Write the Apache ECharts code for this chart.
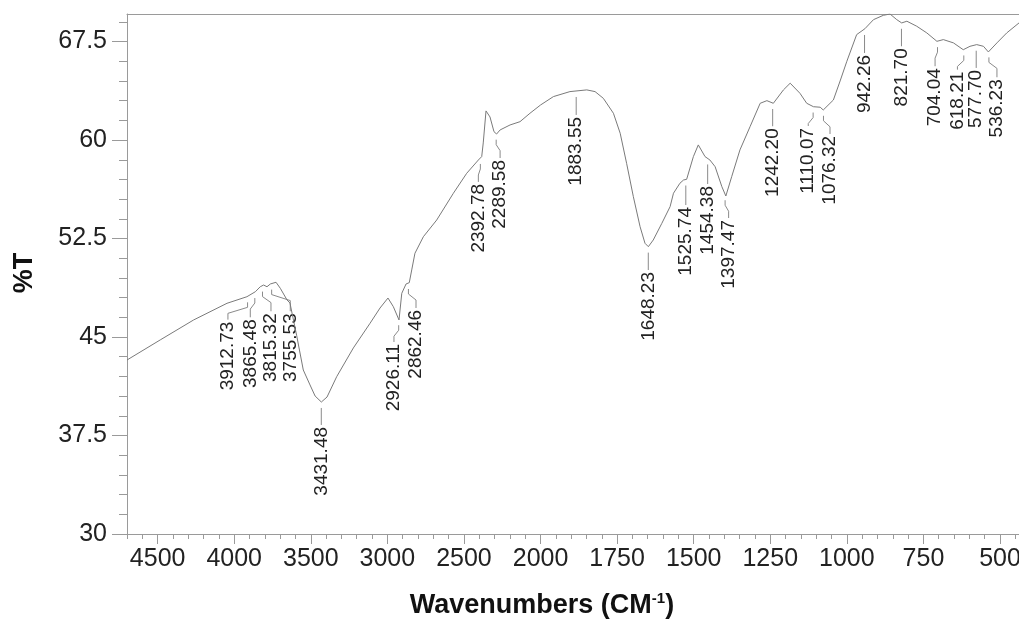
<!DOCTYPE html>
<html><head><meta charset="utf-8">
<script src="https://cdn.jsdelivr.net/npm/echarts@6/dist/echarts.min.js"></script>
<style>html,body{margin:0;padding:0;background:#fff}#c{width:1019px;height:620px}</style>
</head><body><div id="c"></div>
<script>
// ---- data ----
const wavenumbers = [4700,4483,4265,4047,3917,3862,3830,3808,3786,3764,3727,3699,3655,3636,3592,3549,3505,3472,3431,3394,3331,3222,3113,3048,2996,2961,2924,2906,2878,2857,2841,2820,2765,2678,2569,2482,2406,2384,2374,2356,2330,2304,2287,2264,2199,2134,2069,2000,1958,1904,1849,1822,1795,1762,1740,1719,1697,1675,1659,1648,1632,1604,1577,1566,1545,1533,1523,1501,1485,1463,1447,1430,1408,1395,1376,1349,1316,1283,1261,1240,1207,1185,1153,1131,1109,1087,1077,1044,1022,1000,968,941,913,881,859,837,821,804,772,739,706,685,652,620,598,576,554,538,510,478,438];
const transmittance = [43.25,44.78,46.30,47.57,48.07,48.45,48.83,48.96,48.83,49.04,49.17,48.71,47.82,47.59,45.10,42.49,41.35,40.51,40.05,40.43,41.98,44.17,46.05,47.21,47.97,47.31,46.30,48.33,49.04,49.14,50.11,51.38,52.64,53.91,55.95,57.47,58.48,58.74,59.78,62.22,61.76,60.64,60.46,60.77,61.15,61.40,62.04,62.67,63.31,63.69,63.82,63.69,63.18,62.04,60.52,58.23,55.69,53.40,52.14,51.88,52.39,53.66,54.93,55.95,56.71,56.96,57.01,58.74,59.63,58.74,58.48,57.97,56.45,55.74,57.21,59.25,61.02,62.80,63.00,62.80,63.82,64.33,63.56,62.80,62.54,62.50,62.29,63.05,64.50,66.00,68.03,68.48,69.17,69.50,69.60,69.17,68.92,69.05,68.67,68.16,67.52,67.65,67.40,66.88,67.14,67.27,67.14,66.71,67.40,68.16,68.92];
const peakWavenumbers = [3912.73,3865.48,3815.32,3755.53,3431.48,2926.11,2862.46,2392.78,2289.58,1883.55,1648.23,1525.74,1454.38,1397.47,1242.20,1110.07,1076.32,942.26,821.70,704.04,618.21,577.70,536.23];
const xTickLabels = [4500,4000,3500,3000,2500,2000,1750,1500,1250,1000,750,500];
const yTickLabels = [30,37.5,45,52.5,60,67.5];

// ---- label layout (data space: [label wavenumber, %T at label top]) ----
const labelLayout = [[4041,46.17],[3895,46.35],[3760,46.81],[3634,46.81],[3431.48,38.15],[2957,44.47],[2813,47.06],[2406,56.66],[2264,58.48],[1883.55,61.76],[1648.23,49.95],[1525.74,54.90],[1454.38,56.50],[1386,53.91],[1242.20,60.90],[1126,60.92],[1055,60.31],[942.26,66.48],[821.70,66.99],[712,65.47],[639,65.21],[577.70,65.34],[510,64.63]];

// axis: scale above 2000 cm-1 is compressed by 2
const BREAK = 2000;
function toU(w){ return w > BREAK ? BREAK + (w - BREAK) / 2 : w; }
function fromU(u){ return u > BREAK ? BREAK + (u - BREAK) * 2 : u; }
function interpT(w){
  for (let i = 0; i < wavenumbers.length - 1; i++) {
    const a = wavenumbers[i], b = wavenumbers[i+1];
    if (w <= a && w >= b) { const t = (a - w) / (a - b); return transmittance[i] + t * (transmittance[i+1] - transmittance[i]); }
  }
  return transmittance[transmittance.length - 1];
}

const U_MIN = 438, U_MAX = toU(4700);
const Y_MIN = 30, Y_MAX = 69.6;
const FONT = 'Liberation Sans, Arial, Helvetica, sans-serif';
const AX = '#9a9a9a';
const majorU = xTickLabels.map(toU);
const minorU = []; for (let u = 450; u <= U_MAX; u += 50) minorU.push(u);
const minorY = []; for (let v = 30; v <= Y_MAX; v += 1.5) minorY.push(+v.toFixed(2));

const chart = echarts.init(document.getElementById('c'), null, {renderer:'canvas'});
chart.setOption({
  animation: false,
  backgroundColor: '#fff',
  grid: { left: 127, right: 0, top: 14, bottom: 86, containLabel: false, outerBoundsMode: 'none' },
  xAxis: [
    { type:'value', position:'bottom', inverse:true, min:U_MIN, max:U_MAX,
      axisLine:{show:true, onZero:false, lineStyle:{color:AX, width:1}},
      axisTick:{show:true, length:10, customValues: majorU, lineStyle:{color:AX}},
      axisLabel:{show:true, customValues: majorU, formatter: v => String(Math.round(fromU(v))), margin:13, fontSize:25, color:'#222', fontFamily:FONT},
      splitLine:{show:false} },
    { type:'value', position:'bottom', inverse:true, min:U_MIN, max:U_MAX,
      axisLine:{show:false, onZero:false},
      axisTick:{show:true, length:5, customValues: minorU, lineStyle:{color:AX}},
      axisLabel:{show:false}, splitLine:{show:false} },
    { type:'value', position:'top', inverse:true, min:U_MIN, max:U_MAX,
      axisLine:{show:true, onZero:false, lineStyle:{color:AX, width:1}},
      axisTick:{show:false}, axisLabel:{show:false}, splitLine:{show:false} }
  ],
  yAxis: [
    { type:'value', position:'left', min:Y_MIN, max:Y_MAX,
      axisLine:{show:true, onZero:false, lineStyle:{color:AX, width:1}},
      axisTick:{show:true, length:15, customValues: yTickLabels, lineStyle:{color:AX}},
      axisLabel:{show:true, customValues: yTickLabels, formatter: v => String(v), margin:20, fontSize:25, color:'#222', fontFamily:FONT},
      splitLine:{show:false} },
    { type:'value', position:'left', min:Y_MIN, max:Y_MAX,
      axisLine:{show:false, onZero:false},
      axisTick:{show:true, length:8, customValues: minorY, lineStyle:{color:AX}},
      axisLabel:{show:false}, splitLine:{show:false} }
  ],
  graphic: [
    { type:'text', x:25, y:273, rotation: Math.PI/2,
      style:{ text:'%T', fontSize:27, fontWeight:'bold', fontFamily:FONT, fill:'#111', align:'center', verticalAlign:'middle' } },
    { type:'text', x:542, y:606,
      style:{ text:'Wavenumbers (CM{sup|-1})', fontSize:27, fontWeight:'bold', fontFamily:FONT, fill:'#111', align:'center', verticalAlign:'middle',
        rich:{ sup:{ fontSize:15, fontWeight:'bold', fontFamily:FONT, fill:'#111', verticalAlign:'top', lineHeight:30 } } } }
  ],
  series: [
    { type:'line', xAxisIndex:0, yAxisIndex:0, showSymbol:false, symbol:'none',
      lineStyle:{color:'#7a7a7a', width:1}, data: wavenumbers.map((w,i) => [toU(w), transmittance[i]]), silent:true },
    { type:'custom', xAxisIndex:0, yAxisIndex:0, silent:true, clip:false,
      data: peakWavenumbers.map((w,i) => [toU(w), interpT(w), toU(labelLayout[i][0]), labelLayout[i][1], i]),
      renderItem: function(params, api){
        const idx = api.value(4);
        const p = api.coord([api.value(0), api.value(1)]);
        const l = api.coord([api.value(2), api.value(3)]);
        const x0 = p[0], y0 = p[1] + 6, lx = l[0], top = l[1];
        let pts;
        if (Math.abs(lx - x0) < 1.5) pts = [[x0,y0],[x0,top-2]];
        else pts = [[x0,y0],[x0,y0+5],[lx,y0+11],[lx,top-2]];
        return { type:'group', children:[
          { type:'polyline', shape:{points:pts}, style:{stroke:'#8a8a8a', lineWidth:1, fill:null} },
          { type:'text', x:lx, y:top, rotation:Math.PI/2,
            style:{ text: peakWavenumbers[idx].toFixed(2), align:'right', verticalAlign:'middle', fontSize:19, fontFamily:FONT, fill:'#222' } }
        ]};
      } }
  ]
});
</script></body></html>
